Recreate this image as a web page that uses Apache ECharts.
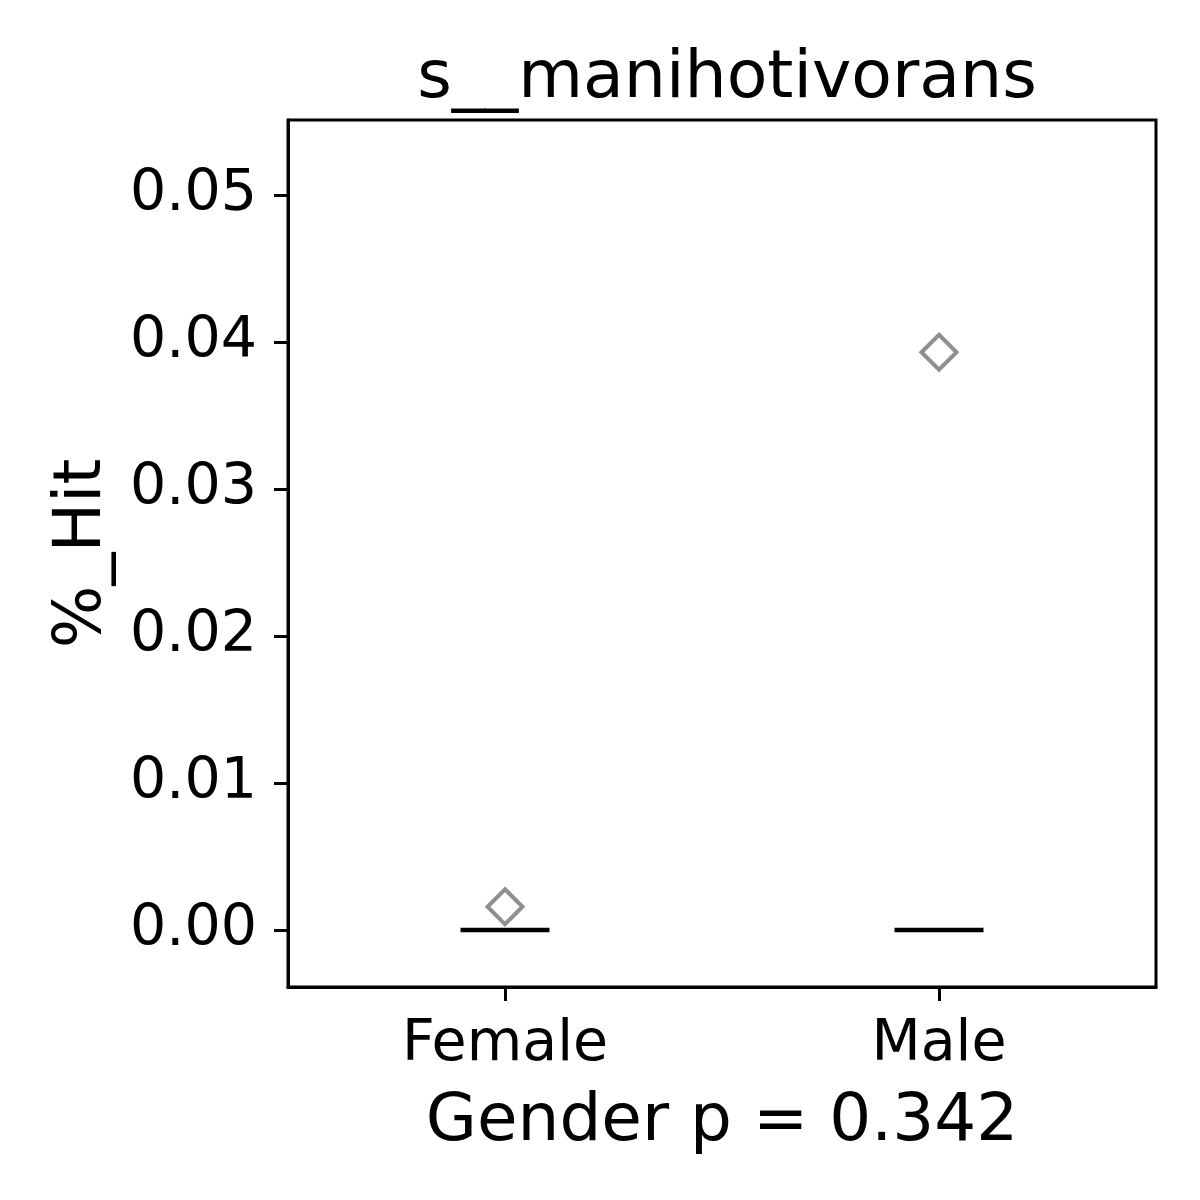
<!DOCTYPE html>
<html>
<head>
<meta charset="utf-8">
<script src="https://cdn.jsdelivr.net/npm/echarts@6/dist/echarts.min.js"></script>
<style>html,body{margin:0;padding:0;background:#fff}#chart{width:1200px;height:1200px}</style>
</head>
<body>
<div id="chart"></div>
<script>
const titleText = 's__manihotivorans';
const categories = ['Female', 'Male'];
// median per category (box collapsed: min = Q1 = median = Q3 = max)
const medians = [0, 0];
const outlierFemale = [0.00158];
const outlierMale = [0.0393];
const yTicks = [0.00, 0.01, 0.02, 0.03, 0.04, 0.05];
const yMin = -0.00388;
const yMax = 0.0551;
const xLabel = 'Gender p = 0.342';
const yLabel = '%_Hit';

const font = 'DejaVu Sans';
const chart = echarts.init(document.getElementById('chart'), null, {renderer: 'canvas'});
const outliers = [];
outlierFemale.forEach(v => outliers.push([0, v]));
outlierMale.forEach(v => outliers.push([1, v]));
const boxData = medians.map((m, i) => [i, m]);

chart.setOption({
  animation: false,
  backgroundColor: '#ffffff',
  title: {
    text: titleText,
    left: 722, textAlign: 'center',
    top: 41,
    textStyle: {fontFamily: font, fontSize: 66.5, fontWeight: 'normal', color: '#000'}
  },
  grid: {
    left: 288, right: 44, top: 120, bottom: 213,
    show: true, borderColor: '#000', borderWidth: 3, backgroundColor: 'transparent'
  },
  xAxis: {
    type: 'category',
    data: categories,
    boundaryGap: true,
    name: xLabel,
    nameLocation: 'middle',
    nameGap: 103,
    nameTextStyle: {fontFamily: font, fontSize: 66, color: '#000'},
    axisLine: {show: true, onZero: false, lineStyle: {color: '#000', width: 3}},
    axisTick: {show: true, alignWithLabel: true, length: 14, lineStyle: {color: '#000', width: 3}},
    axisLabel: {fontFamily: font, fontSize: 57, color: '#000', margin: 30},
    splitLine: {show: false}
  },
  yAxis: {
    type: 'value',
    min: yMin, max: yMax,
    name: yLabel,
    nameLocation: 'middle',
    nameGap: 172,
    nameTextStyle: {fontFamily: font, fontSize: 66, color: '#000'},
    axisLine: {show: true, lineStyle: {color: '#000', width: 3}},
    axisTick: {show: true, length: 14, customValues: yTicks, lineStyle: {color: '#000', width: 3}},
    axisLabel: {fontFamily: font, fontSize: 57, color: '#000', margin: 31,
      customValues: yTicks, formatter: v => v.toFixed(2)},
    splitLine: {show: false}
  },
  series: [
    {
      type: 'custom',
      data: boxData,
      renderItem: function (params, api) {
        const p = api.coord([api.value(0), api.value(1)]);
        const half = api.size([1, 0])[0] * 0.1025;
        return {
          type: 'line',
          shape: {x1: p[0] - half, y1: p[1], x2: p[0] + half, y2: p[1]},
          style: {stroke: '#000', lineWidth: 4.5}
        };
      },
      z: 3
    },
    {
      type: 'scatter',
      data: outliers,
      symbol: 'diamond',
      symbolSize: 35,
      itemStyle: {color: 'transparent', borderColor: '#737373', borderWidth: 4},
      z: 4
    }
  ]
});
</script>
</body>
</html>
